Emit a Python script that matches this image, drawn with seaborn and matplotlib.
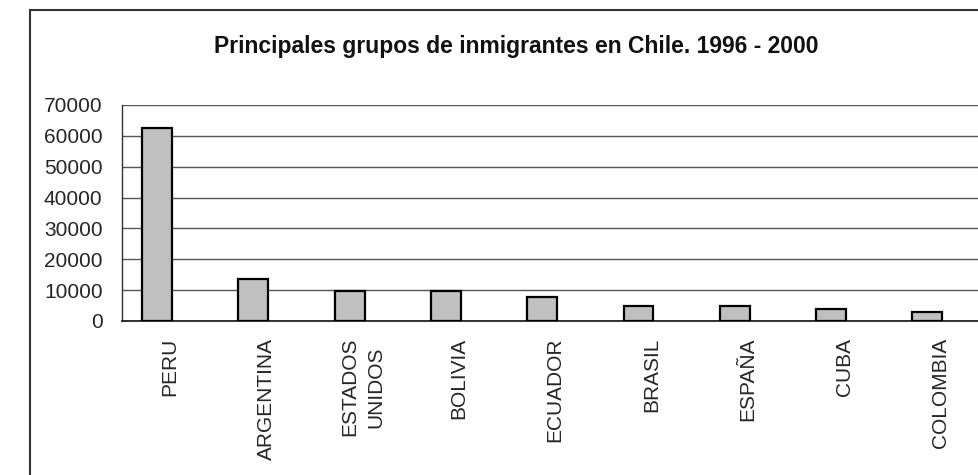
import numpy as np
import pandas as pd
import matplotlib
matplotlib.use("Agg")
import matplotlib.pyplot as plt
from matplotlib.patches import Rectangle
from matplotlib.ticker import FixedLocator
import seaborn as sns

categories = ["PERU", "ARGENTINA", "ESTADOS\nUNIDOS", "BOLIVIA", "ECUADOR",
              "BRASIL", "ESPAÑA", "CUBA", "COLOMBIA"]
values = [62700, 13600, 9800, 9800, 7800, 4900, 4700, 3800, 2800]
yticks = [0, 10000, 20000, 30000, 40000, 50000, 60000, 70000]
title = "Principales grupos de inmigrantes en Chile. 1996 - 2000"

sns.set_style("white")
plt.rcParams["font.family"] = ["Liberation Sans", "DejaVu Sans"]

W, H = 979, 475
fig = plt.figure(figsize=(W / 100, H / 100), dpi=100)
fig.patch.set_facecolor("white")

# axes position in pixels
left_px, right_px, top_px, bot_px = 122, 1000, 105, 321
ax = fig.add_axes([left_px / W, 1 - bot_px / H, (right_px - left_px) / W, (bot_px - top_px) / H])

df = pd.DataFrame({"pais": categories, "valor": values})
sns.barplot(data=df, x="pais", y="valor", ax=ax, color="#c0c0c0", saturation=1,
            width=0.31, edgecolor="black", linewidth=1.6, zorder=3)

spacing = 96.3
x0 = (left_px - 157) / spacing
x1 = x0 + (right_px - left_px) / spacing
ax.set_xlim(x0, x1)
ax.set_ylim(0, 70000)

ax.set_yticks(yticks)
ax.set_yticklabels([str(v) for v in yticks], fontsize=15)
ax.yaxis.grid(True, color="#555555", linewidth=1.0, zorder=0)
ax.set_axisbelow(True)

centers = np.arange(len(categories)) + 0.135
ax.set_xticks(centers)
ax.set_xticklabels(categories, rotation=90, fontsize=15, ha="center", va="top",
                   multialignment="center", linespacing=1.45)
ax.tick_params(axis="x", which="major", length=0, pad=12)
ax.xaxis.set_minor_locator(FixedLocator(x0 + np.arange(0, 10)))
ax.tick_params(axis="x", which="minor", length=6, width=1, color="#333333", direction="out")
ax.tick_params(axis="y", which="major", length=5, width=1, color="#333333", direction="out", pad=9)
ax.set_xlabel("")
ax.set_ylabel("")

for s in ["top", "right"]:
    ax.spines[s].set_visible(False)
ax.spines["left"].set_color("#333333")
ax.spines["bottom"].set_color("#111111")
ax.spines["left"].set_linewidth(1.0)
ax.spines["bottom"].set_linewidth(1.2)

fig.text(516 / W, 1 - 47 / H, title, ha="center", va="center", fontsize=16.5,
         fontweight="bold", color="#111111")

frame = Rectangle((30 / W, -0.2), 2.0, 1.2 - 10 / H, transform=fig.transFigure,
                  fill=False, edgecolor="#333333", linewidth=1.5, clip_on=False)
fig.patches.append(frame)

fig.savefig("out.png", dpi=100)
